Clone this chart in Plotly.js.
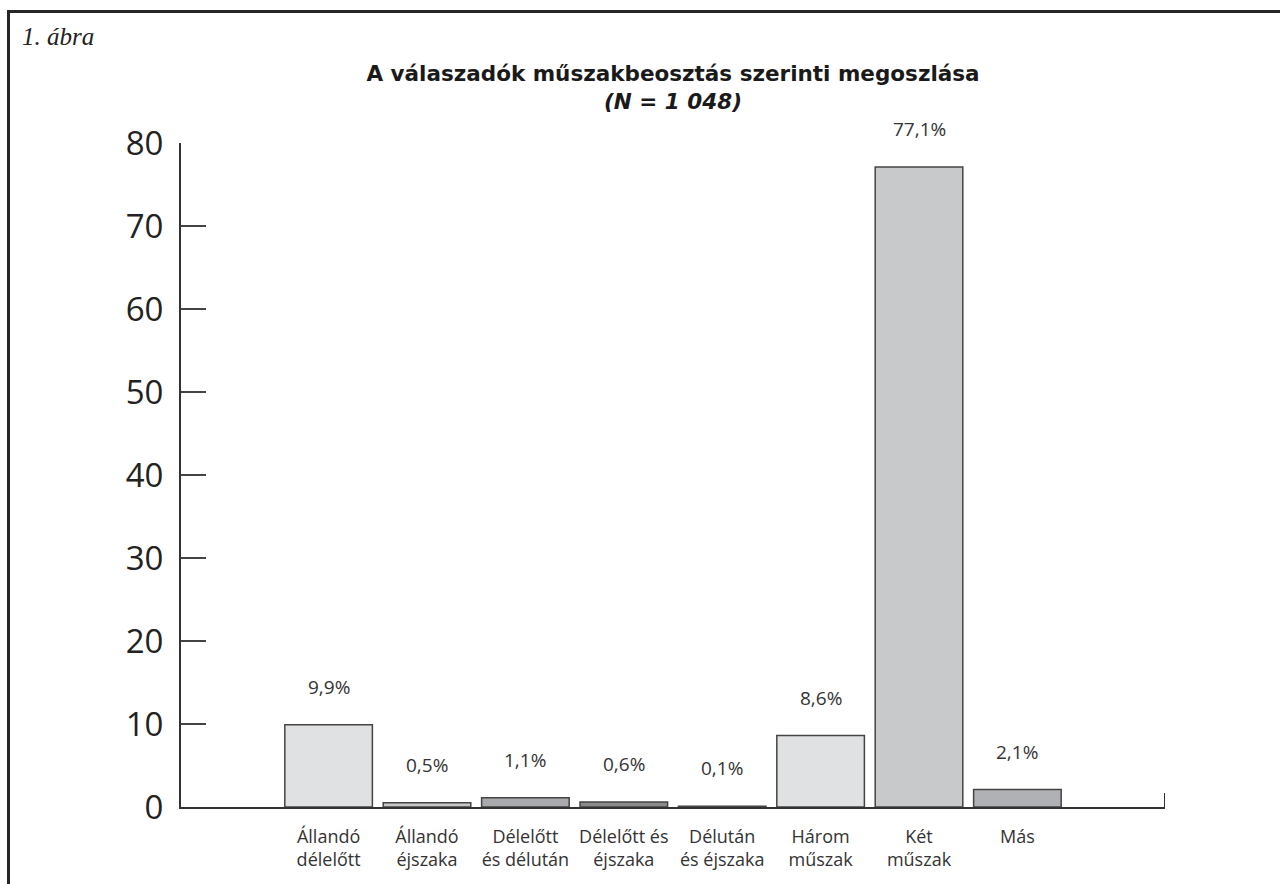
<!DOCTYPE html>
<html>
<head>
<meta charset="utf-8">
<script src="https://cdn.plot.ly/plotly-3.0.1.min.js"></script>
<style>
  html, body { margin: 0; padding: 0; background: #fff; }
  #chart { width: 1280px; height: 884px; position: relative; }
  #frame { position: absolute; left: 7px; top: 10px; width: 1400px; height: 1000px;
           border-left: 3px solid #262626; border-top: 3px solid #262626; pointer-events: none; z-index: 5; }
</style>
</head>
<body>
<div id="chart"></div>
<div id="frame"></div>
<script>
const categories = [
  "Állandó<br>délelőtt",
  "Állandó<br>éjszaka",
  "Délelőtt<br>és délután",
  "Délelőtt és<br>éjszaka",
  "Délután<br>és éjszaka",
  "Három<br>műszak",
  "Két<br>műszak",
  "Más"
];
const values = [9.9, 0.5, 1.1, 0.6, 0.1, 8.6, 77.1, 2.1];
const valueLabels = ["9,9%", "0,5%", "1,1%", "0,6%", "0,1%", "8,6%", "77,1%", "2,1%"];
const barColors = ["#e0e1e2", "#c6c7c9", "#a9aaad", "#8b8b8e", "#9a9a9d", "#e0e1e2", "#c8c9cb", "#b0b1b4"];
const yTicks = [0, 10, 20, 30, 40, 50, 60, 70, 80];

const labelFont = "'Open Sans', sans-serif";

const trace = {
  type: "bar",
  x: categories,
  y: values,
  marker: { color: barColors, line: { color: "#444", width: 1.5 } },
  width: 0.89,
  hoverinfo: "skip"
};

const annotations = categories.map((c, i) => ({
  x: c, y: values[i], xref: "x", yref: "y",
  text: valueLabels[i], showarrow: false,
  yanchor: "bottom", yshift: 23,
  font: { family: labelFont, size: 19, color: "#333" }
}));
annotations.push({
  xref: "paper", yref: "paper", x: -0.164, y: 1.16,
  xanchor: "left", yanchor: "middle",
  text: "<i>1. ábra</i>", showarrow: false,
  font: { family: "'Liberation Serif', serif", size: 25, color: "#222" }
});

const layout = {
  width: 1280, height: 884,
  margin: { l: 181, r: 115, t: 143, b: 77 },
  paper_bgcolor: "#fff", plot_bgcolor: "#fff",
  showlegend: false,
  title: {
    text: "<b>A válaszadók műszakbeosztás szerinti megoszlása</b><br><b><i>(N = 1 048)</i></b>",
    x: 0.5, xref: "paper", xanchor: "center",
    y: 1 - 81 / 884, yref: "container", yanchor: "top",
    font: { family: "'DejaVu Sans', sans-serif", size: 21.5, color: "#1a1a1a" }
  },
  xaxis: {
    type: "category",
    range: [-1.5, 8.5],
    showline: true, linecolor: "#333", linewidth: 2,
    ticks: "", showgrid: false, zeroline: false,
    tickfont: { family: labelFont, size: 18, color: "#333" },
    ticklabelstandoff: 12
  },
  yaxis: {
    range: [0, 80],
    tickvals: yTicks,
    ticks: "inside", ticklen: 25, tickcolor: "#444", tickwidth: 1.5,
    showline: true, linecolor: "#333", linewidth: 2,
    showgrid: false, zeroline: false,
    tickfont: { family: "'Open Sans', sans-serif", size: 33, color: "#222" },
    ticklabelstandoff: 9
  },
  shapes: [
    { type: "line", xref: "x", yref: "y", x0: 8.5, x1: 8.5, y0: 0, y1: 1.7,
      line: { color: "#333", width: 2 } }
  ],
  annotations: annotations
};

Plotly.newPlot("chart", [trace], layout, { displayModeBar: false, staticPlot: true });
</script>
</body>
</html>
